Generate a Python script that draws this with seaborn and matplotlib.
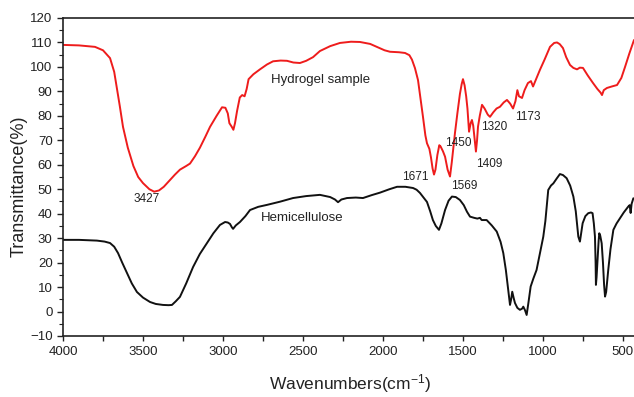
import matplotlib
matplotlib.use("Agg")
import matplotlib.pyplot as plt
import seaborn as sns
import pandas as pd
from matplotlib.ticker import MultipleLocator

# ---------------- data ----------------
hydrogel_wn = [4000, 3900, 3800, 3750, 3706, 3680, 3665, 3645, 3625, 3595, 3560, 3530, 3500, 3460, 3430,
               3400, 3370, 3331, 3300, 3269, 3230, 3206, 3175, 3144, 3110, 3081, 3040, 3006, 2985, 2970,
               2960, 2945, 2935, 2925, 2912, 2895, 2880, 2865, 2852, 2840, 2810, 2769, 2725, 2687, 2640,
               2600, 2560, 2519, 2480, 2437, 2394, 2330, 2269, 2200, 2144, 2080, 2038, 1990, 1956, 1900,
               1862, 1835, 1819, 1800, 1781, 1765, 1750, 1735, 1725, 1710, 1700, 1690, 1681, 1672, 1660,
               1648, 1640, 1625, 1612, 1596, 1581, 1570, 1560, 1550, 1535, 1519, 1508, 1500, 1490, 1480,
               1472, 1462, 1452, 1444, 1436, 1431, 1424, 1419, 1412, 1406, 1395, 1381, 1365, 1345, 1331,
               1310, 1290, 1269, 1245, 1225, 1205, 1187, 1172, 1160, 1150, 1131, 1115, 1094, 1075, 1062,
               1040, 1019, 990, 956, 930, 912, 895, 875, 855, 831, 810, 787, 770, 750, 720,
               687, 660, 640, 631, 620, 600, 570, 537, 510, 487, 460, 431]
hydrogel_t = [109.0, 108.8, 108.2, 106.8, 103.6, 98.0, 92.0, 84.0, 75.5, 67.0, 59.5, 55.0, 52.5, 50.0, 49.0,
              49.5, 51.0, 53.8, 56.0, 58.0, 59.5, 60.5, 63.5, 67.0, 71.5, 75.5, 80.0, 83.5, 83.3, 81.0,
              77.0, 75.5, 74.3, 77.0, 82.0, 87.5, 88.5, 88.0, 91.0, 95.0, 97.0, 99.0, 101.0, 102.3, 102.6,
              102.5, 101.8, 101.6, 102.5, 104.0, 106.5, 108.5, 109.8, 110.3, 110.2, 109.4, 108.2, 106.8, 106.2, 106.0,
              105.7, 104.8, 103.0, 99.5, 94.6, 87.0, 79.6, 72.0, 68.8, 66.5, 63.0, 58.5, 56.0, 58.0, 64.0,
              68.0, 67.5, 65.5, 63.3, 58.0, 55.2, 61.0, 67.0, 73.0, 81.0, 89.0, 93.0, 95.0, 92.5, 88.0,
              83.0, 73.5, 77.0, 78.3, 76.0, 72.8, 68.0, 65.4, 70.0, 75.6, 80.0, 84.5, 83.0, 80.5, 79.6,
              81.5, 83.0, 83.7, 85.5, 86.5, 85.0, 83.0, 86.0, 90.5, 88.0, 87.3, 90.5, 93.4, 94.2, 92.0,
              95.5, 98.8, 103.0, 108.2, 109.8, 110.0, 109.3, 107.7, 104.0, 100.8, 99.6, 99.0, 99.7, 99.6, 96.5,
              93.4, 91.0, 89.5, 88.5, 90.5, 91.4, 92.0, 92.6, 95.5, 100.0, 105.5, 111.0]

hemi_wn = [4000, 3900, 3788, 3740, 3706, 3680, 3656, 3630, 3600, 3570, 3538, 3500, 3456, 3420, 3375,
           3340, 3319, 3295, 3269, 3230, 3187, 3145, 3100, 3060, 3019, 2987, 2970, 2956, 2945, 2937,
           2920, 2894, 2860, 2831, 2780, 2725, 2644, 2562, 2480, 2394, 2330, 2300, 2281, 2260, 2225,
           2170, 2125, 2070, 2019, 1960, 1912, 1860, 1812, 1790, 1769, 1745, 1725, 1705, 1688, 1670,
           1650, 1635, 1620, 1612, 1590, 1569, 1545, 1519, 1495, 1475, 1456, 1430, 1410, 1394, 1383,
           1352, 1320, 1289, 1265, 1248, 1232, 1217, 1206, 1199, 1192, 1183, 1175, 1160, 1144, 1130,
           1123, 1112, 1102, 1090, 1077, 1060, 1040, 1020, 998, 985, 975, 967, 950, 935, 915,
           894, 875, 852, 830, 810, 795, 785, 779, 769, 760, 752, 735, 717, 700, 690,
           682, 675, 671, 669, 665, 658, 652, 648, 642, 633, 625, 618, 612, 605, 592,
           578, 560, 540, 519, 495, 467, 458, 452, 446, 435]
hemi_t = [29.3, 29.3, 29.0, 28.6, 28.0, 26.5, 23.9, 20.0, 15.8, 11.5, 8.0, 5.7, 3.9, 3.1, 2.7,
          2.6, 2.7, 4.2, 6.0, 11.5, 18.2, 23.5, 28.0, 32.0, 35.4, 36.6, 36.4, 35.8, 34.5, 33.8,
          35.2, 36.6, 39.0, 41.5, 42.8, 43.6, 44.9, 46.4, 47.2, 47.7, 46.8, 45.8, 44.7, 45.8, 46.4,
          46.6, 46.4, 47.6, 48.6, 50.0, 51.0, 51.0, 50.5, 49.8, 48.5, 46.5, 44.8, 41.0, 37.4, 35.0,
          33.4, 36.0, 39.5, 41.5, 45.3, 47.0, 46.8, 45.6, 43.5, 40.8, 38.8, 38.3, 38.0, 38.3, 37.4,
          37.4, 35.2, 32.7, 28.5, 23.9, 17.0, 8.8, 2.7, 5.0, 8.1, 5.5, 3.5, 1.5, 0.7, 1.2,
          2.0, 0.5, -1.4, 4.0, 10.2, 13.5, 17.0, 23.5, 30.6, 37.0, 44.0, 49.7, 51.5, 52.4, 54.3,
          56.2, 55.8, 54.5, 51.5, 47.0, 41.0, 34.5, 30.6, 28.6, 32.5, 36.1, 39.0, 40.2, 40.5, 40.2,
          36.0, 30.6, 20.0, 10.9, 14.0, 22.4, 29.0, 32.0, 31.0, 27.9, 20.0, 11.0, 6.1, 8.0, 17.0,
          25.5, 33.4, 36.0, 38.1, 40.5, 42.9, 43.5, 40.3, 44.0, 46.3]

peak_labels = ["3427", "1671", "1569", "1450", "1409", "1320", "1173"]
peak_label_wn = [3478, 1796, 1491, 1531, 1337, 1303, 1094]
peak_label_t = [46.0, 55.0, 51.3, 69.0, 60.3, 75.4, 79.5]

series_labels = ["Hydrogel sample", "Hemicellulose"]
series_label_wn = [2387, 2506]
series_label_t = [94.7, 38.3]

x_ticks = [4000, 3500, 3000, 2500, 2000, 1500, 1000, 500]
y_ticks = [-10, 0, 10, 20, 30, 40, 50, 60, 70, 80, 90, 100, 110, 120]

# ---------------- style ----------------
sns.set_style("ticks")
plt.rcParams["font.family"] = ["Liberation Sans", "DejaVu Sans"]
plt.rcParams["mathtext.default"] = "regular"

df_h = pd.DataFrame({"wn": hydrogel_wn, "T": hydrogel_t})
df_c = pd.DataFrame({"wn": hemi_wn, "T": hemi_t})

fig = plt.figure(figsize=(6.34, 3.97), dpi=100)
ax = fig.add_axes([63 / 634, 1 - 336 / 397, 1 - 63 / 634, (336 - 18) / 397])

sns.lineplot(data=df_h, x="wn", y="T", ax=ax, color="#ee1c1c", lw=1.4, estimator=None, sort=False)
sns.lineplot(data=df_c, x="wn", y="T", ax=ax, color="#111111", lw=1.4, estimator=None, sort=False)

ax.set_xlim(4000, 431)
ax.set_ylim(-10, 120)
ax.set_xticks(x_ticks)
ax.set_yticks(y_ticks)
ax.xaxis.set_minor_locator(MultipleLocator(250))
ax.yaxis.set_minor_locator(MultipleLocator(5))

for s in ["top", "bottom", "left"]:
    ax.spines[s].set_linewidth(1.2)
    ax.spines[s].set_color("#222222")
ax.spines["right"].set_visible(False)

ax.tick_params(axis="both", which="major", labelsize=9.5, colors="#222222", width=1.0)
ax.tick_params(axis="y", which="major", length=4.5, pad=3)
ax.tick_params(axis="y", which="minor", length=3, width=0.8, colors="#222222")
ax.tick_params(axis="x", which="major", length=3.5, pad=4)
ax.tick_params(axis="x", which="minor", length=3.5, width=1.0, colors="#222222")

ax.set_xlabel("Wavenumbers(cm$^{-1}$)", fontsize=12.5, color="#222222")
ax.set_ylabel("Transmittance(%)", fontsize=13, color="#222222")
ax.xaxis.set_label_coords(0.503, -0.112)
ax.yaxis.set_label_coords(-0.062, 0.47)

for lab, x, y in zip(peak_labels, peak_label_wn, peak_label_t):
    ax.text(x, y, lab, fontsize=8.5, ha="center", va="center", color="#222222")
for lab, x, y in zip(series_labels, series_label_wn, series_label_t):
    ax.text(x, y, lab, fontsize=9.5, ha="center", va="center", color="#222222")

fig.savefig("out.png", dpi=100)
